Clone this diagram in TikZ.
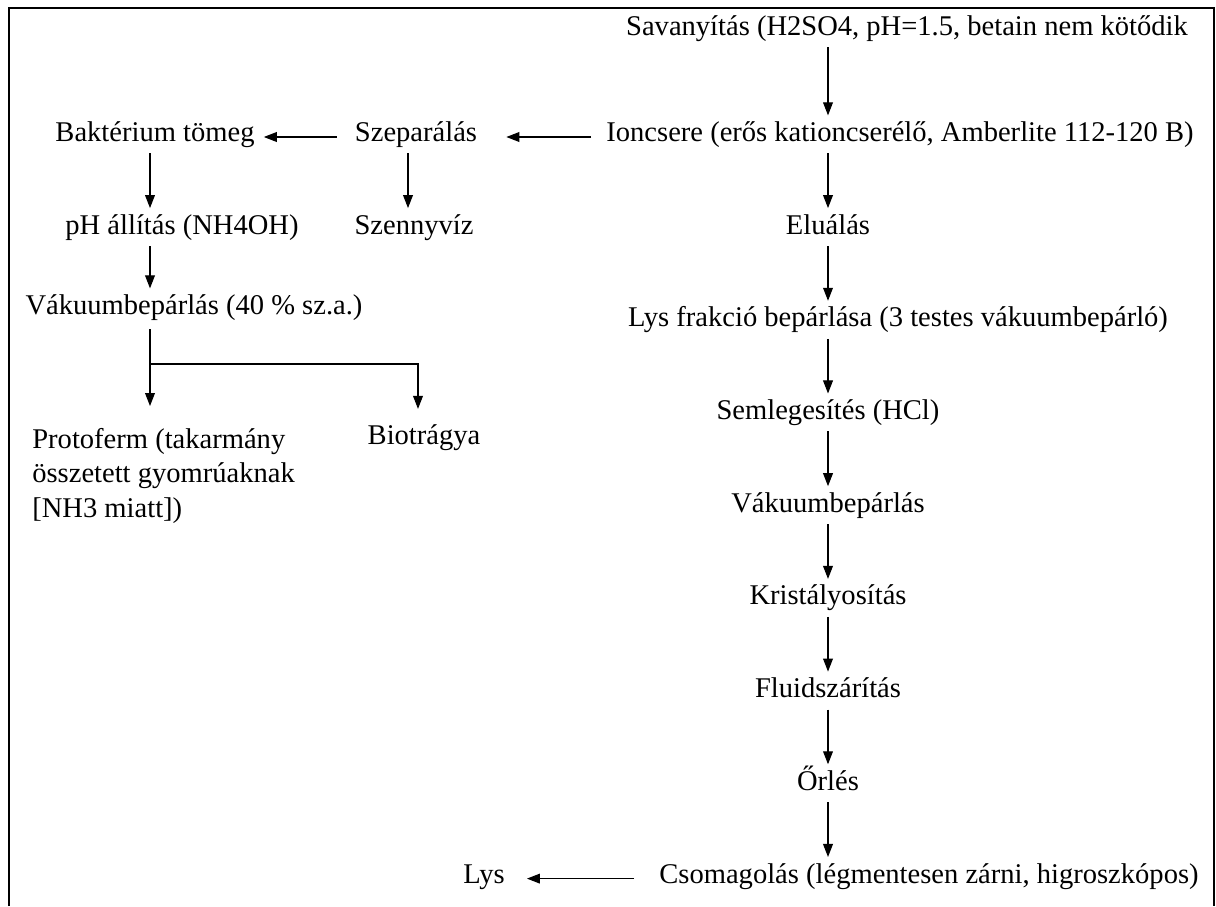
\documentclass[tikz,border=0pt]{standalone}
\usepackage{fontspec}
\setmainfont{Liberation Serif}
\usetikzlibrary{arrows.meta}

\begin{document}
\begin{tikzpicture}[x=0.02cm,y=-0.02cm,
    font=\fontsize{16.25}{19.6}\selectfont,
    lepes/.style={inner sep=0pt,text height=0.75em,text depth=0.25em},
    nyil/.style={line width=0.6pt,-{Triangle[width=5.6pt,length=7.4pt]}},
    le/.style={nyil,shorten <=0.24cm,shorten >=0.25cm}]
    \useasboundingbox (0,0) rectangle (1216,906);
    % Keret
    \draw[line width=1.1pt] (9,906) -- (9,8) -- (1214,8) -- (1214,906);
    % Fo ag
    \def\sor{92.7}
    \node[lepes] (sav) at (907,31) {Savanyítás (H2SO4, pH=1.5, betain nem kötődik};
    \node[lepes] (ion) at (900,137) {Ioncsere (erős kationcserélő, Amberlite 112-120 B)};
    \node[lepes] (elu) at (828,137+\sor) {Eluálás};
    \node[lepes] (lys) at (898,137+2*\sor) {Lys frakció bepárlása (3 testes vákuumbepárló)};
    \node[lepes] (semleg) at (828,137+3*\sor) {Semlegesítés (HCl)};
    \node[lepes] (vakuum) at (828,137+4*\sor) {Vákuumbepárlás};
    \node[lepes] (krist) at (828,137+5*\sor) {Kristályosítás};
    \node[lepes] (fluid) at (828,137+6*\sor) {Fluidszárítás};
    \node[lepes] (orles) at (828,137+7*\sor) {Őrlés};
    \node[lepes] (csomag) at (929,137+8*\sor) {Csomagolás (légmentesen zárni, higroszkópos)};
    \node[lepes] (lysvege) at (484,137+8*\sor) {Lys};
    % Mellekag
    \node[lepes] (szep) at (416,137) {Szeparálás};
    \node[lepes] (szenny) at (414,137+\sor) {Szennyvíz};
    \node[lepes] (bakt) at (155,137) {Baktérium tömeg};
    \node[lepes] (ph) at (182,137+\sor) {pH állítás (NH4OH)};
    \node[lepes] (bepar) at (194,310) {Vákuumbepárlás (40 \% sz.a.)};
    \node[inner sep=0pt,anchor=north west,align=left] (proto) at (32,428)
      {Protoferm (takarmány\\összetett gyomrúaknak\\{[NH3 miatt])}};
    \node[lepes] (bio) at (424,440) {Biotrágya};
    % Nyilak
    \foreach \a/\b in {sav/ion,ion/elu,elu/lys,lys/semleg,semleg/vakuum,vakuum/krist,krist/fluid,fluid/orles,orles/csomag}
      \draw[le] (elu |- \a.base) -- (elu |- \b.north);
    \draw[nyil,shorten <=0.3cm,shorten >=0.58cm] (ion.west) -- (szep.east);
    \draw[nyil,shorten <=0.36cm,shorten >=0.18cm] (szep.west) -- (bakt.east);
    \draw[nyil,shorten <=0.5cm,shorten >=0.44cm] (csomag.west) -- (lysvege.east);
    \coordinate (bal) at (150,0);
    \draw[le] (bal |- bakt.base) -- (bal |- ph.north);
    \draw[le] (bal |- ph.base) -- (bal |- bepar.north);
    \draw[le] ([xshift=-0.16cm]szep.base) -- ([xshift=-0.16cm]szep.base |- szenny.north);
    % Elagazas
    \coordinate (elag) at (150,364);
    \draw[nyil,shorten <=0.3cm,shorten >=0.44cm] (bal |- bepar.base) -- (bal |- proto.north);
    \draw[nyil,shorten >=0.44cm] (elag) -| ([xshift=-0.12cm]bio.north);
\end{tikzpicture}
\end{document}
